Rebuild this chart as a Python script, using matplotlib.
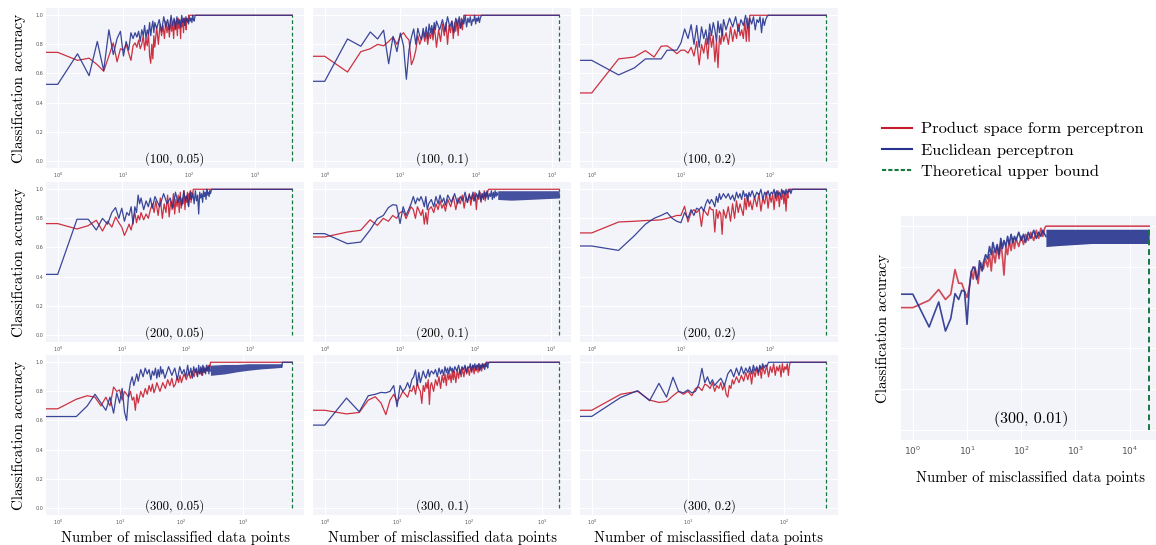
import numpy as np
import matplotlib
matplotlib.use('Agg')
from matplotlib import pyplot as plt
from matplotlib.lines import Line2D
from matplotlib.ticker import NullLocator

red = '#c81c2d'
blue = '#26338e'
green = '#17783f'
bg = '#f3f4f9'

## data (x = number of misclassified points)

# (100, 0.05)
rx_100_005 = list(range(0, 31)) + list(range(32, 97, 2)) + [97, 98, 3700]
ry_100_005 = [0.745, 0.745, 0.69, 0.705, 0.66, 0.615, 0.72, 0.81, 0.68, 0.77,
              0.76, 0.80, 0.74, 0.69, 0.79, 0.81, 0.78, 0.83, 0.77, 0.80,
              0.86, 0.76, 0.84, 0.79, 0.88, 0.72, 0.67, 0.80, 0.70, 0.86, 0.78,
              0.92, 0.80, 0.94, 0.86, 0.93, 0.84, 0.96, 0.88, 0.94, 0.85,
              0.97, 0.89, 0.95, 0.84, 0.97, 0.90, 0.96, 0.86, 0.98, 0.91,
              0.95, 0.84, 0.97, 0.92, 0.96, 0.88, 0.98, 0.93, 0.97, 0.90,
              0.98, 0.95, 0.97, 0.96, 1.0, 1.0]
bx_100_005 = list(range(0, 31)) + list(range(32, 123, 3)) + [124, 3700]
by_100_005 = [0.525, 0.525, 0.735, 0.585, 0.82, 0.62, 0.90, 0.73, 0.84, 0.89,
              0.72, 0.82, 0.76, 0.88, 0.84, 0.88, 0.85, 0.89, 0.82, 0.90,
              0.86, 0.93, 0.84, 0.90, 0.87, 0.95, 0.86, 0.92, 0.96, 0.88, 0.95,
              0.91, 0.97, 0.89, 0.99, 0.92, 0.97, 0.90, 1.0, 0.93, 0.98,
              0.91, 0.99, 0.94, 0.97, 0.92, 1.0, 0.95, 0.98, 0.93, 0.99,
              0.96, 0.97, 0.94, 0.99, 0.96, 0.98, 0.95, 1.0, 0.97, 0.96, 0.99,
              1.0, 1.0]

# (100, 0.1)
rx_100_01 = list(range(0, 31)) + list(range(32, 69, 2)) + [69, 1260]
ry_100_01 = [0.718, 0.718, 0.61, 0.75, 0.77, 0.80, 0.79, 0.82, 0.85, 0.80,
             0.86, 0.88, 0.85, 0.83, 0.66, 0.70, 0.76, 0.86, 0.80, 0.84,
             0.88, 0.82, 0.88, 0.80, 0.88, 0.84, 0.90, 0.83, 0.92, 0.86, 0.78,
             0.90, 0.82, 0.94, 0.86, 0.95, 0.80, 0.93, 0.88, 0.96, 0.84,
             0.95, 0.89, 0.97, 0.86, 0.96, 0.91, 0.98, 0.90, 0.97,
             1.0, 1.0]
bx_100_01 = list(range(0, 31)) + list(range(33, 116, 3)) + [118, 1260]
by_100_01 = [0.546, 0.546, 0.837, 0.787, 0.885, 0.837, 0.897, 0.667, 0.855, 0.75,
             0.878, 0.79, 0.56, 0.76, 0.85, 0.906, 0.80, 0.91, 0.86, 0.83,
             0.91, 0.85, 0.92, 0.84, 0.94, 0.88, 0.93, 0.87, 0.95, 0.90, 0.96,
             0.90, 0.97, 0.89, 0.99, 0.92, 0.96, 0.88, 0.98, 0.93, 0.99,
             0.91, 0.97, 0.94, 1.0, 0.92, 0.98, 0.95, 0.99, 0.93, 0.97,
             0.96, 1.0, 0.94, 0.98, 0.96, 0.99, 0.95, 0.98,
             1.0, 1.0]

# (100, 0.2)
rx_100_02 = list(range(0, 31)) + list(range(32, 59, 2)) + [59, 425]
ry_100_02 = [0.466, 0.466, 0.70, 0.713, 0.757, 0.713, 0.787, 0.79, 0.764, 0.736,
             0.76, 0.76, 0.74, 0.78, 0.72, 0.82, 0.66, 0.80, 0.74, 0.84,
             0.70, 0.88, 0.78, 0.86, 0.68, 0.82, 0.64, 0.86, 0.80, 0.90, 0.82,
             0.88, 0.80, 0.92, 0.82, 0.90, 0.84, 0.94, 0.86, 0.90, 0.84,
             0.96, 0.82, 0.98, 0.82,
             1.0, 1.0]
bx_100_02 = list(range(0, 31)) + list(range(32, 93, 3)) + [95, 425]
by_100_02 = [0.69, 0.69, 0.59, 0.638, 0.70, 0.70, 0.70, 0.76, 0.76, 0.76,
             0.81, 0.906, 0.84, 0.935, 0.80, 0.93, 0.78, 0.92, 0.84, 0.90,
             0.80, 0.94, 0.86, 0.95, 0.90, 0.82, 0.96, 0.88, 0.94, 0.86, 0.97,
             0.90, 0.98, 0.92, 0.99, 0.89, 0.97, 0.93, 1.0, 0.91, 0.98,
             0.94, 0.99, 0.90, 0.97, 0.95, 0.99, 0.88, 0.98, 0.93, 0.97, 0.99,
             1.0, 1.0]

# (200, 0.05)
rx_200_005 = list(range(0, 21)) + list(range(22, 35, 2)) + list(range(37, 131, 3)) + [131, 4600]
ry_200_005 = [0.764, 0.764, 0.727, 0.75, 0.787, 0.713, 0.78, 0.74, 0.81, 0.77,
              0.74, 0.683, 0.72, 0.76, 0.72, 0.78, 0.84, 0.77, 0.82, 0.79, 0.84,
              0.79, 0.83, 0.80, 0.86, 0.90, 0.84, 0.92,
              0.82, 0.94, 0.80, 0.90, 0.84, 0.96, 0.81, 0.92, 0.86, 0.97,
              0.83, 0.93, 0.88, 0.96, 0.84, 0.98, 0.87, 0.94, 0.90, 0.99,
              0.86, 0.95, 0.91, 0.98, 0.89, 0.97, 0.93, 0.99, 0.91, 0.98,
              0.95, 0.99,
              1.0, 1.0]
bx_200_005 = list(range(0, 21)) + list(range(22, 31, 2)) + list(range(33, 250, 6)) + [252, 4600]
by_200_005 = [0.415, 0.415, 0.794, 0.794, 0.72, 0.80, 0.76, 0.84, 0.874, 0.80,
              0.87, 0.78, 0.84, 0.82, 0.88, 0.76, 0.88, 0.84, 0.96, 0.90, 0.94,
              0.86, 0.92, 0.88, 0.94, 0.87,
              0.95, 0.88, 0.97, 0.90, 0.94, 0.87, 0.98, 0.91, 0.95, 0.89,
              0.99, 0.92, 0.96, 0.88, 0.98, 0.93, 0.97, 0.90, 0.99, 0.92,
              0.96, 0.83, 0.98, 0.94, 0.97, 0.91, 0.99, 0.95, 0.98, 0.93,
              1.0, 0.96, 0.98, 0.95, 0.99, 0.97, 0.99,
              1.0, 1.0]

# (200, 0.1)
rx_200_01 = list(range(0, 25)) + list(range(26, 41, 2)) + list(range(43, 148, 4)) + [150, 1300]
ry_200_01 = [0.672, 0.672, 0.706, 0.718, 0.79, 0.752, 0.80, 0.78, 0.82, 0.80,
             0.84, 0.85, 0.798, 0.84, 0.88, 0.86, 0.80, 0.88, 0.85, 0.82,
             0.86, 0.76, 0.84, 0.76, 0.86,
             0.88, 0.84, 0.90, 0.86, 0.92, 0.87, 0.90, 0.85,
             0.93, 0.88, 0.95, 0.86, 0.94, 0.90, 0.96, 0.87, 0.95, 0.91,
             0.97, 0.89, 0.96, 0.92, 0.98, 0.86, 0.96, 0.93, 0.98, 0.91,
             0.97, 0.94, 0.99, 0.92, 0.98, 0.95, 0.99,
             1.0, 1.0]
bx_200_01 = list(range(0, 25)) + list(range(26, 41, 2)) + list(range(43, 200, 5))
by_200_01 = [0.695, 0.695, 0.626, 0.637, 0.72, 0.798, 0.82, 0.874, 0.894, 0.89,
             0.764, 0.88, 0.82, 0.86, 0.90, 0.95, 0.90, 0.94, 0.92, 0.95,
             0.92, 0.88, 0.95, 0.86, 0.90,
             0.93, 0.88, 0.95, 0.90, 0.96, 0.91, 0.94, 0.89,
             0.96, 0.91, 0.97, 0.90, 0.95, 0.92, 0.98, 0.91, 0.96, 0.93,
             0.98, 0.92, 0.97, 0.94, 0.99, 0.92, 0.97, 0.93, 0.98, 0.94,
             0.99, 0.93, 0.97, 0.95, 0.99, 0.93, 0.98, 0.94, 0.99, 0.95,
             0.98, 0.96]
# dense blue stretch, upper and lower edge
band_x_200_01 = [198, 300, 500, 800, 1300]
band_hi_200_01 = [0.99, 0.99, 0.99, 0.99, 0.99]
band_lo_200_01 = [0.93, 0.925, 0.93, 0.935, 0.94]

# (200, 0.2)
rx_200_02 = list(range(0, 31)) + list(range(32, 61, 2)) + list(range(63, 160, 4)) + [160, 427]
ry_200_02 = [0.70, 0.70, 0.775, 0.78, 0.785, 0.787, 0.79, 0.80, 0.81, 0.82,
             0.82, 0.883, 0.775, 0.84, 0.86, 0.84, 0.86, 0.745, 0.86, 0.84,
             0.82, 0.88, 0.86, 0.86, 0.706, 0.86, 0.80, 0.85, 0.83, 0.69, 0.86,
             0.80, 0.88, 0.78, 0.90, 0.80, 0.92, 0.84, 0.90, 0.86, 0.82,
             0.94, 0.86, 0.96, 0.88, 0.92,
             0.86, 0.95, 0.88, 0.97, 0.85, 0.94, 0.90, 0.98, 0.87, 0.96,
             0.91, 0.97, 0.86, 0.98, 0.92, 0.99, 0.88, 0.97, 0.93, 0.99,
             0.90, 0.98, 0.85, 0.97, 0.94,
             1.0, 1.0]
bx_200_02 = list(range(0, 31)) + list(range(32, 61, 2)) + list(range(63, 176, 4)) + [177, 427]
by_200_02 = [0.61, 0.61, 0.58, 0.68, 0.76, 0.80, 0.82, 0.84, 0.80, 0.78,
             0.77, 0.84, 0.80, 0.86, 0.82, 0.87, 0.86, 0.88, 0.85, 0.90,
             0.93, 0.90, 0.93, 0.91, 0.88, 0.95, 0.91, 0.97, 0.93, 0.95, 0.97,
             0.94, 0.97, 0.93, 0.96, 0.92, 0.98, 0.94, 0.97, 0.93, 0.99,
             0.95, 0.97, 0.92, 0.98, 0.95,
             0.99, 0.94, 0.98, 0.96, 1.0, 0.93, 0.98, 0.96, 0.99, 0.95,
             0.98, 0.97, 1.0, 0.94, 0.99, 0.96, 0.98, 0.95, 1.0, 0.97,
             0.99, 0.96, 1.0, 0.97, 0.99, 0.98, 1.0, 0.97, 0.99,
             1.0, 1.0]

# (300, 0.05)
rx_300_005 = (list(range(0, 21)) + list(range(22, 41, 2)) + list(range(45, 101, 5))
              + list(range(110, 291, 10)) + [295, 6200])
ry_300_005 = [0.68, 0.68, 0.746, 0.77, 0.76, 0.70, 0.76, 0.70, 0.83, 0.80,
              0.81, 0.74, 0.80, 0.78, 0.76, 0.80, 0.74, 0.76, 0.67, 0.78, 0.72,
              0.80, 0.76, 0.82, 0.78, 0.84, 0.80, 0.85, 0.79, 0.82, 0.86,
              0.80, 0.86, 0.82, 0.88, 0.84, 0.89, 0.83, 0.85, 0.90, 0.86, 0.91, 0.86,
              0.92, 0.88, 0.93, 0.89, 0.94, 0.90, 0.95, 0.91, 0.94, 0.92,
              0.96, 0.91, 0.97, 0.93, 0.96, 0.94, 0.98, 0.95, 0.97,
              1.0, 1.0]
bx_300_005 = list(range(0, 21)) + list(range(22, 51, 2)) + list(range(54, 301, 8))
by_300_005 = [0.627, 0.627, 0.627, 0.70, 0.78, 0.72, 0.67, 0.76, 0.65, 0.79,
              0.72, 0.82, 0.66, 0.60, 0.78, 0.86, 0.90, 0.84, 0.88, 0.92, 0.87,
              0.95, 0.90, 0.96, 0.92, 0.95, 0.88, 0.94, 0.91, 0.96, 0.89,
              0.95, 0.90, 0.97, 0.92, 0.95,
              0.89, 0.97, 0.91, 0.96, 0.88, 0.97, 0.92, 0.95, 0.90, 0.98,
              0.91, 0.96, 0.89, 0.97, 0.93, 0.96, 0.90, 0.98, 0.92, 0.97,
              0.91, 0.98, 0.93, 0.96, 0.92, 0.98, 0.94, 0.97, 0.92, 0.98, 0.94]
band_x_300_005 = [294, 500, 800, 1200, 2000, 3000, 4200]
band_hi_300_005 = [0.98, 0.985, 0.985, 0.99, 0.99, 0.99, 0.99]
band_lo_300_005 = [0.91, 0.92, 0.935, 0.945, 0.955, 0.96, 0.965]
tail_x_300_005 = [4200, 4300, 6200]
tail_y_300_005 = [0.97, 1.0, 1.0]

# (300, 0.1)
rx_300_01 = (list(range(0, 31)) + list(range(32, 61, 2)) + list(range(62, 83, 3))
             + list(range(84, 169, 4)) + [170, 1750])
ry_300_01 = [0.67, 0.67, 0.645, 0.655, 0.74, 0.763, 0.72, 0.64, 0.74, 0.78,
             0.73, 0.76, 0.80, 0.78, 0.76, 0.81, 0.80, 0.84, 0.78, 0.86,
             0.82, 0.80, 0.717, 0.84, 0.80, 0.86, 0.82, 0.88, 0.71, 0.84, 0.86,
             0.80, 0.88, 0.84, 0.90, 0.82, 0.91, 0.86, 0.92, 0.84, 0.93,
             0.88, 0.92, 0.86, 0.94, 0.88,
             0.94, 0.86, 0.95, 0.89, 0.95, 0.90, 0.96,
             0.90, 0.97, 0.92, 0.96, 0.91, 0.97, 0.93, 0.98, 0.92, 0.97,
             0.94, 0.98, 0.93, 0.99, 0.95, 0.98, 0.94, 0.99, 0.96, 0.99,
             0.97, 0.99,
             1.0, 1.0]
bx_300_01 = list(range(0, 31)) + list(range(32, 61, 2)) + list(range(63, 187, 4)) + [188, 1750]
by_300_01 = [0.568, 0.568, 0.754, 0.66, 0.77, 0.78, 0.793, 0.79, 0.80, 0.84,
             0.694, 0.84, 0.80, 0.82, 0.86, 0.82, 0.88, 0.90, 0.947, 0.84,
             0.93, 0.86, 0.90, 0.94, 0.91, 0.89, 0.92, 0.95, 0.90, 0.93, 0.94,
             0.92, 0.95, 0.90, 0.96, 0.92, 0.95, 0.91, 0.97, 0.93, 0.96,
             0.92, 0.97, 0.94, 0.96, 0.93,
             0.97, 0.94, 0.98, 0.92, 0.97, 0.95, 0.98, 0.93, 0.97, 0.96,
             0.99, 0.94, 0.98, 0.96, 0.99, 0.95, 0.98, 0.97, 0.99, 0.94,
             0.98, 0.96, 0.99, 0.97, 0.98, 0.95, 0.99, 0.97, 1.0, 0.96, 0.99,
             1.0, 1.0]

# (300, 0.2)
rx_300_02 = list(range(0, 31)) + list(range(32, 61, 2)) + list(range(63, 115, 3)) + [116, 275]
ry_300_02 = [0.67, 0.67, 0.78, 0.80, 0.74, 0.724, 0.73, 0.77, 0.80, 0.78,
             0.80, 0.77, 0.82, 0.83, 0.805, 0.85, 0.84, 0.82, 0.86, 0.80,
             0.84, 0.82, 0.86, 0.81, 0.85, 0.78, 0.76, 0.84, 0.82, 0.88, 0.85,
             0.90, 0.86, 0.91, 0.87, 0.93, 0.88, 0.94, 0.85, 0.95, 0.90,
             0.96, 0.91, 0.97, 0.89, 0.97,
             0.92, 0.98, 0.90, 0.97, 0.93, 0.99, 0.91, 0.97, 0.94, 0.98,
             0.90, 0.99, 0.93, 0.97, 0.95, 0.99, 0.91, 0.98,
             1.0, 1.0]
bx_300_02 = list(range(0, 21)) + list(range(22, 69, 2)) + [69, 275]
by_300_02 = [0.628, 0.628, 0.758, 0.805, 0.736, 0.855, 0.76, 0.897, 0.80, 0.79,
             0.81, 0.79, 0.80, 0.85, 0.958, 0.86, 0.90, 0.85, 0.88, 0.84, 0.86,
             0.89, 0.84, 0.92, 0.95, 0.90, 0.96, 0.91, 0.97, 0.92, 0.96,
             0.93, 0.97, 0.92, 0.98, 0.94, 0.97, 0.93, 0.98, 0.95, 0.99,
             0.96, 0.98, 0.97, 0.99,
             1.0, 1.0]

# (300, 0.01), the big panel
mid_x_300_001 = [33, 36, 39, 42, 45, 48, 52, 56, 60, 65, 70, 75, 80, 90, 100,
                 110, 120, 135, 150, 170, 190, 210, 230, 250, 270]
rx_300_001 = list(range(0, 21)) + list(range(22, 31, 2)) + mid_x_300_001 + [285, 22900]
ry_300_001 = [0.60, 0.60, 0.636, 0.689, 0.64, 0.666, 0.787, 0.72, 0.72, 0.68,
              0.65, 0.70, 0.78, 0.74, 0.80, 0.76, 0.718, 0.78, 0.82, 0.80, 0.79,
              0.84, 0.80, 0.86, 0.78, 0.88,
              0.82, 0.90, 0.84, 0.92, 0.85, 0.76, 0.90, 0.86, 0.93, 0.88,
              0.94, 0.89, 0.94, 0.90, 0.95, 0.91, 0.96, 0.93, 0.97, 0.93,
              0.98, 0.94, 0.99, 0.95, 0.99,
              1.0, 1.0]
bx_300_001 = list(range(0, 21)) + list(range(22, 31, 2)) + mid_x_300_001 + [285]
by_300_001 = [0.666, 0.666, 0.505, 0.628, 0.485, 0.546, 0.669, 0.64, 0.685, 0.68,
              0.518, 0.693, 0.775, 0.80, 0.79, 0.74, 0.76, 0.83, 0.80, 0.78, 0.82,
              0.86, 0.84, 0.90, 0.86, 0.92,
              0.87, 0.91, 0.86, 0.94, 0.89, 0.93, 0.90, 0.95, 0.91, 0.96,
              0.92, 0.95, 0.93, 0.97, 0.93, 0.96, 0.92, 0.97, 0.94, 0.98,
              0.94, 0.97, 0.95, 0.98, 0.96,
              0.95]
band_x_300_001 = [285, 500, 1000, 2000, 5000, 10000, 22900]
band_hi_300_001 = [0.985, 0.985, 0.985, 0.985, 0.985, 0.985, 0.985]
band_lo_300_001 = [0.90, 0.905, 0.91, 0.915, 0.915, 0.915, 0.915]

labels = ['(100, 0.05)', '(100, 0.1)', '(100, 0.2)',
          '(200, 0.05)', '(200, 0.1)', '(200, 0.2)',
          '(300, 0.05)', '(300, 0.1)', '(300, 0.2)']
bounds = [3700, 1260, 425, 4600, 1300, 427, 6200, 1750, 275]
reds = [(rx_100_005, ry_100_005), (rx_100_01, ry_100_01), (rx_100_02, ry_100_02),
        (rx_200_005, ry_200_005), (rx_200_01, ry_200_01), (rx_200_02, ry_200_02),
        (rx_300_005, ry_300_005), (rx_300_01, ry_300_01), (rx_300_02, ry_300_02)]
blues = [(bx_100_005, by_100_005), (bx_100_01, by_100_01), (bx_100_02, by_100_02),
         (bx_200_005, by_200_005), (bx_200_01, by_200_01), (bx_200_02, by_200_02),
         (bx_300_005, by_300_005), (bx_300_01, by_300_01), (bx_300_02, by_300_02)]
bands = {4: (band_x_200_01, band_lo_200_01, band_hi_200_01),
         6: (band_x_300_005, band_lo_300_005, band_hi_300_005)}
tails = {6: (tail_x_300_005, tail_y_300_005)}

serif = 'cmr10'

W, H = 1156.0, 545.0
fig = plt.figure(figsize=(W / 100, H / 100), dpi=100)


def box(x0, y0, w, h):
    return [x0 / W, 1 - (y0 + h) / H, w / W, h / H]


def style(ax, bound, labsize):
    ax.set_facecolor(bg)
    for s in ax.spines.values():
        s.set_visible(False)
    ax.set_xscale('log')
    ax.xaxis.set_minor_locator(NullLocator())
    ax.grid(True, color='white', lw=0.8)
    ax.set_axisbelow(True)
    ax.set_ylim(-0.05, 1.05)
    ax.set_yticks([0.0, 0.2, 0.4, 0.6, 0.8, 1.0])
    L = np.log10(bound)
    ax.set_xlim(10 ** (-0.05 * L), 10 ** (1.05 * L))
    ax.tick_params(length=0, labelsize=labsize, colors='#555555', pad=2)


col_left = [46, 313, 580]
row_top = [8, 182, 355]

for i in range(9):
    r, c = divmod(i, 3)
    ax = fig.add_axes(box(col_left[c], row_top[r], 258, 160))
    style(ax, bounds[i], 3.5)
    ax.plot(reds[i][0], reds[i][1], color=red, lw=0.9, alpha=0.9)
    ax.plot(blues[i][0], blues[i][1], color=blue, lw=0.9, alpha=0.9)
    if i in bands:
        bxs, lo, hi = bands[i]
        ax.fill_between(bxs, lo, hi, color=blue, alpha=0.85, lw=0)
    if i in tails:
        ax.plot(tails[i][0], tails[i][1], color=blue, lw=0.9, alpha=0.9)
    ax.plot([bounds[i], bounds[i]], [0, 1], color=green, lw=0.9, ls=(0, (3, 2)))
    ax.text(0.5, 0.055, labels[i], transform=ax.transAxes, ha='center',
            va='center', fontsize=9.2, family=serif)
    if c == 0:
        ax.set_ylabel('Classification accuracy', family=serif, fontsize=10.8, labelpad=7)
    else:
        ax.tick_params(labelleft=False)
    if r == 2:
        ax.set_xlabel('Number of misclassified data points', family=serif,
                      fontsize=10.5, labelpad=3)

# big panel on the right
ax = fig.add_axes(box(901, 216, 260, 224))
style(ax, 22900, 6.5)
ax.tick_params(labelleft=False, pad=3)
ax.plot(rx_300_001, ry_300_001, color=red, lw=1.2, alpha=0.8)
ax.plot(bx_300_001, by_300_001, color=blue, lw=1.2, alpha=0.9)
ax.fill_between(band_x_300_001, band_lo_300_001, band_hi_300_001, color=blue, alpha=0.9, lw=0)
ax.plot([22900, 22900], [0, 1], color=green, lw=1.4, ls=(0, (3, 2)))
ax.text(0.5, 0.094, '(300, 0.01)', transform=ax.transAxes, ha='center',
        va='center', fontsize=11.5, family=serif)
ax.set_ylabel('Classification accuracy', family=serif, fontsize=10.8, labelpad=8)
ax.set_xlabel('Number of misclassified data points', family=serif, fontsize=10.5, labelpad=10)

handles = [Line2D([], [], color=red, lw=1.5),
           Line2D([], [], color=blue, lw=1.5),
           Line2D([], [], color=green, lw=1.5, ls=(0, (2, 1)))]
fig.legend(handles, ['Product space form perceptron', 'Euclidean perceptron',
                     'Theoretical upper bound'],
           loc='upper left', bbox_to_anchor=(882 / W, 1 - 122 / H), frameon=False,
           prop={'family': serif, 'size': 11.8}, handlelength=1.8,
           handletextpad=0.6, labelspacing=0.42, borderaxespad=0, borderpad=0)

fig.savefig('out.png', dpi=100)
